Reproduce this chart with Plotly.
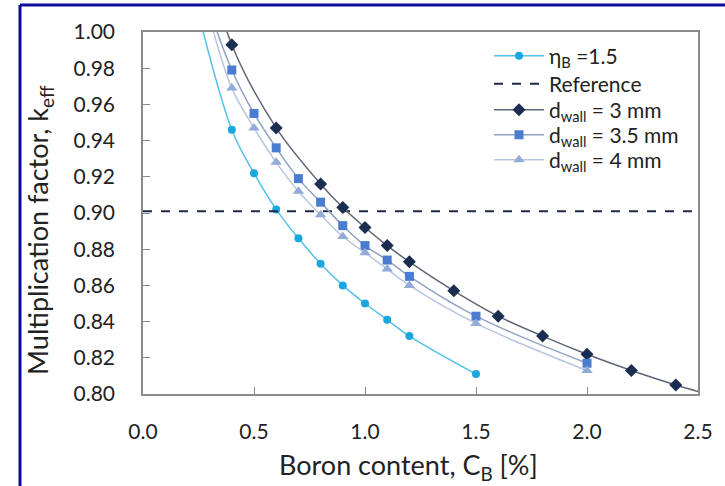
import plotly.graph_objects as go

# ---- data ----
eta_x = [0.2, 0.4, 0.5, 0.6, 0.7, 0.8, 0.9, 1.0, 1.1, 1.2, 1.5]
eta_y = [1.035, 0.946, 0.922, 0.902, 0.886, 0.872, 0.860, 0.850, 0.841, 0.832, 0.811]

ref_x = [0.0, 2.5]
ref_y = [0.901, 0.901]

d3_x = [0.3, 0.4, 0.6, 0.8, 0.9, 1.0, 1.1, 1.2, 1.4, 1.6, 1.8, 2.0, 2.2, 2.4, 2.6]
d3_y = [1.035, 0.993, 0.947, 0.916, 0.903, 0.892, 0.882, 0.873, 0.857, 0.843, 0.832, 0.822, 0.813, 0.805, 0.798]

d35_x = [0.3, 0.4, 0.5, 0.6, 0.7, 0.8, 0.9, 1.0, 1.1, 1.2, 1.5, 2.0]
d35_y = [1.012, 0.979, 0.955, 0.936, 0.919, 0.906, 0.893, 0.882, 0.874, 0.865, 0.843, 0.817]

d4_x = [0.3, 0.4, 0.5, 0.6, 0.7, 0.8, 0.9, 1.0, 1.1, 1.2, 1.5, 2.0]
d4_y = [1.008, 0.969, 0.947, 0.928, 0.912, 0.899, 0.887, 0.878, 0.869, 0.860, 0.839, 0.813]

x_ticks = [0.0, 0.5, 1.0, 1.5, 2.0, 2.5]
y_ticks = [0.80, 0.82, 0.84, 0.86, 0.88, 0.90, 0.92, 0.94, 0.96, 0.98, 1.00]

names = ["η<sub>B</sub> =1.5", "Reference", "d<sub>wall</sub> = 3 mm",
         "d<sub>wall</sub> = 3.5 mm", "d<sub>wall</sub> = 4 mm"]
x_title = "Boron content, C<sub>B</sub> [%]"
y_title = "Multiplication factor, k<sub>eff</sub>"

FONT = "Lato, 'Liberation Sans', sans-serif"
AX = "#8a8a8a"
TXT = "#222222"

fig = go.Figure()
fig.add_trace(go.Scatter(x=eta_x, y=eta_y, name=names[0], mode="lines+markers", legend="legend",
                         line=dict(color="#55C0EA", width=1.5, shape="spline"),
                         marker=dict(symbol="circle", size=8, color="#1AA7E0")))
fig.add_trace(go.Scatter(x=ref_x, y=ref_y, name=names[1], mode="lines", legend="legend2",
                         line=dict(color="#1E2A45", width=2, dash="dash")))
fig.add_trace(go.Scatter(x=d3_x, y=d3_y, name=names[2], mode="lines+markers", legend="legend3",
                         line=dict(color="#5E6676", width=1.5, shape="spline"),
                         marker=dict(symbol="diamond", size=10, color="#1B2D50")))
fig.add_trace(go.Scatter(x=d35_x, y=d35_y, name=names[3], mode="lines+markers", legend="legend4",
                         line=dict(color="#8FA2C2", width=1.5, shape="spline"),
                         marker=dict(symbol="square", size=9, color="#4A7CCF")))
fig.add_trace(go.Scatter(x=d4_x, y=d4_y, name=names[4], mode="lines+markers", legend="legend5",
                         line=dict(color="#B7C6DE", width=1.5, shape="spline"),
                         marker=dict(symbol="triangle-up", size=10, color="#93ABD9")))

# plot area in pixels: left 143, right 698, top 32, bottom 394
L, R, T, B = 143, 27, 32, 92
W, H = 725, 486
pw, ph = W - L - R, H - T - B

def px(xp):
    return (xp - L) / pw

def py(yp):
    return (H - B - yp) / ph

def leg(ypix):
    return dict(x=px(489), y=py(ypix), xanchor="left", yanchor="middle",
                bgcolor="rgba(0,0,0,0)", font=dict(size=21, color=TXT),
                itemwidth=50)

fig.update_layout(
    width=W, height=H,
    margin=dict(l=L, r=R, t=T, b=B),
    paper_bgcolor="white", plot_bgcolor="white",
    font=dict(family=FONT, size=20, color=TXT),
    showlegend=True,
    legend=leg(56), legend2=leg(84), legend3=leg(110), legend4=leg(135), legend5=leg(160),
    xaxis=dict(range=[0, 2.5], tickvals=x_ticks, tickformat=".1f",
               showgrid=False, zeroline=False, showline=True, mirror=True,
               linecolor=AX, linewidth=1.5, ticks="inside", ticklen=7,
               tickcolor=AX, tickwidth=1, ticklabelstandoff=18,
               tickfont=dict(size=21, color=TXT)),
    yaxis=dict(range=[0.80, 1.00], tickvals=y_ticks, tickformat=".2f",
               showgrid=False, zeroline=False, showline=True, mirror=True,
               linecolor=AX, linewidth=1.5, ticks="inside", ticklen=7,
               tickcolor=AX, tickwidth=1, ticklabelstandoff=22,
               tickfont=dict(size=21, color=TXT)),
)

fig.add_annotation(text=x_title, xref="paper", yref="paper", x=px(408), y=py(466),
                   xanchor="center", yanchor="middle", showarrow=False,
                   font=dict(size=27, color=TXT))
fig.add_annotation(text=y_title, xref="paper", yref="paper", x=px(39), y=py(230),
                   xanchor="center", yanchor="middle", showarrow=False, textangle=-90,
                   font=dict(size=27, color=TXT))

# outer dark-blue frame (partially visible, as in the source image)
fig.add_shape(type="line", xref="paper", yref="paper",
              x0=px(20), x1=px(740), y0=py(5), y1=py(5),
              line=dict(color="#0B0B9E", width=3))
fig.add_shape(type="line", xref="paper", yref="paper",
              x0=px(20), x1=px(20), y0=py(5), y1=py(500),
              line=dict(color="#0B0B9E", width=3))

fig.write_html("out.html", config={"displayModeBar": False},
               post_script="document.body.style.margin='0';document.body.style.overflow='hidden';")
